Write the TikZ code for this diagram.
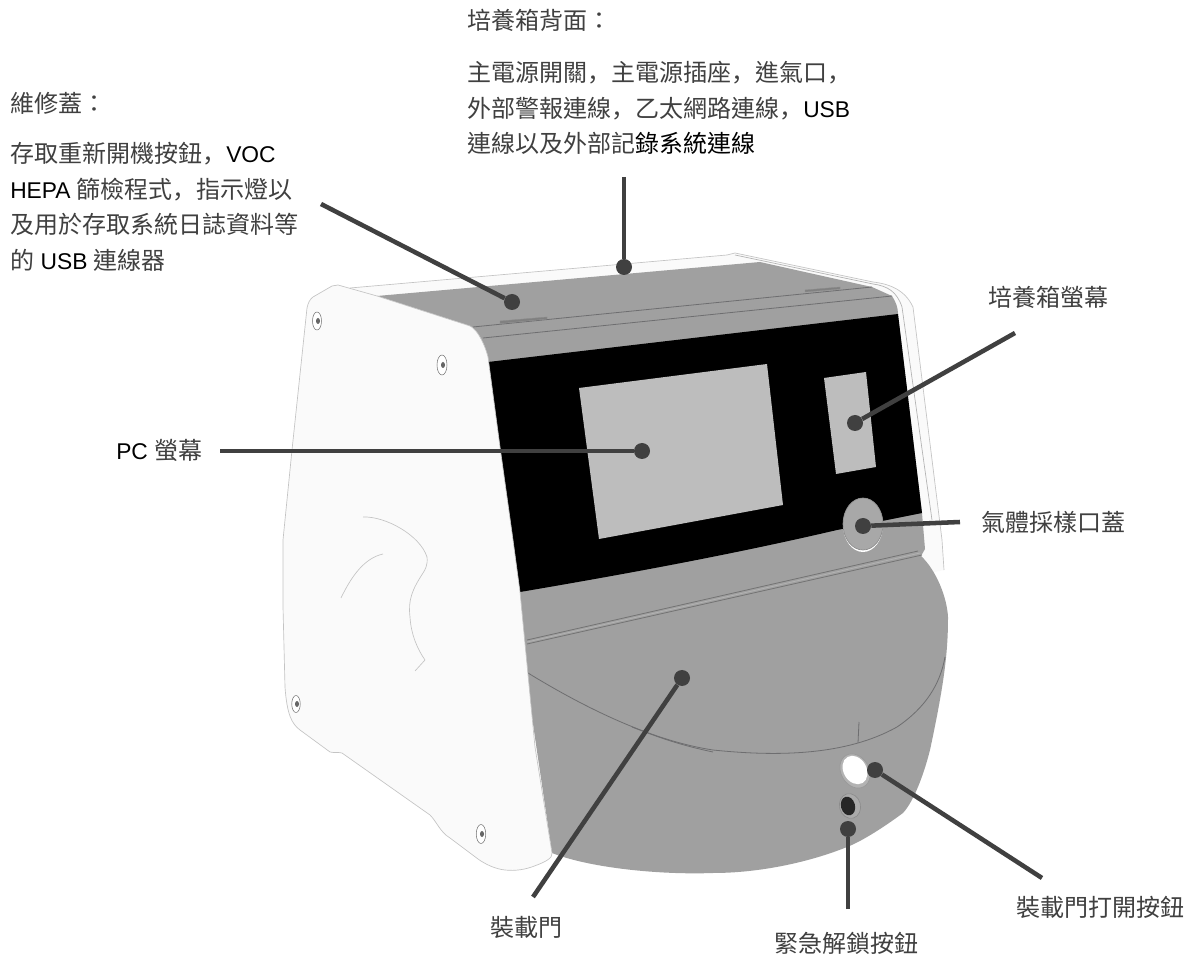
\documentclass[tikz,border=0pt]{standalone}
\usepackage{fontspec}
\setmainfont[Scale=0.95]{Liberation Sans}
\newfontfamily\cjkfont{Noto Sans CJK TC}
\newfontfamily\cjkscfont{Noto Sans CJK SC}
\definecolor{cjktext}{HTML}{404040}
\newcommand{\cj}[1]{{\cjkfont\color{cjktext}#1}}
\newcommand{\cjb}[1]{{\cjkfont\color{black}#1}}
\newcommand{\cjc}{{\cjkscfont\color{cjktext}，}}
\definecolor{body}{HTML}{A0A0A0}
\definecolor{shell}{HTML}{FAFAFA}
\definecolor{edge}{HTML}{C4C4C4}
\definecolor{seam}{HTML}{6E6E70}
\definecolor{lead}{HTML}{404040}
\definecolor{screen}{HTML}{BDBDBD}
\tikzset{
  x=0.75pt,y=-0.75pt,
  lbl/.style={inner sep=0pt,font=\fontsize{18}{26.6}\selectfont,text=black},
  para/.style={lbl,align=left,anchor=north west},
  dot/.style={circle,fill=lead,draw=none,inner sep=0pt,minimum size=12pt},
  leader/.style={draw=lead,line width=3.4pt},
  seamline/.style={draw=seam,line width=0.6pt},
  hair/.style={draw=edge,line width=0.5pt},
  screw/.style={draw=black!55,fill=white,line width=0.4pt},
  slotmark/.style={draw=black!45,fill=black!50,line width=0.3pt},
}
\begin{document}
\begin{tikzpicture}
\useasboundingbox (0,0) rectangle (1190,955);
\fill[white] (0,0) rectangle (1190,955);
% rear lid and right shell edge
\fill[shell] (350,288) -- (727,255) -- (735,253) -- (873,282) .. controls (890,284) and (905,290) .. (913,307) -- (942,540) -- (944,570) -- (800,600) -- (400,340) -- cycle;
\draw[hair] (350,288) -- (727,255) -- (735,253) -- (873,282) .. controls (890,284) and (905,290) .. (913,307) -- (942,540) -- (944,570);
\draw[draw=black!30,line width=0.5pt] (735,255) -- (873,284) .. controls (888,286) and (897,292) .. (902,307) -- (932,520);
% grey body
\fill[body] (377,296) -- (760,262) -- (872,287) -- (892,296) .. controls (896,302) and (898,308) .. (898,314) -- (922,513) -- (925,549) -- (921,556)
  .. controls (936,570) and (947,597) .. (948,617) .. controls (948,650) and (945,680) .. (930,750)
  .. controls (925,770) and (915,800) .. (903,813) .. controls (880,830) and (860,842) .. (847,847)
  .. controls (810,862) and (760,873) .. (713,873) .. controls (660,875) and (590,868) .. (552,853) -- (500,500) -- (470,326) -- cycle;
% black fascia
\fill[black] (488,362) -- (898,314) -- (922,513) -- (837,530) .. controls (730,555) and (620,575) .. (520,592) -- cycle;
% screens
\fill[screen] (579,388) -- (767,364) -- (783,505) -- (599,539) -- cycle;
\fill[screen] (824,378) -- (866,372) -- (876,467) -- (836,474) -- cycle;
% gas sampling port
\fill[white] (863,525) ellipse [x radius=20,y radius=27];
\draw[draw=black!45,fill=body!92!white,line width=0.5pt] (863,524) ellipse [x radius=20,y radius=26];
% lid seams and slots
\draw[seamline] (473,327) -- (872,287);
\draw[seamline] (483,338) -- (892,296);
\draw[slotmark] (500,321) -- (547,317) -- (547,319) -- (500,323.5) -- cycle;
\draw[slotmark] (805,290) -- (840,287) -- (840,289) -- (805,292) -- cycle;
% door seams
\draw[draw=black!55,line width=0.6pt] (527,640) -- (918,551);
\draw[draw=white!70!black,line width=0.6pt] (527,642) -- (920,553);
\draw[draw=black!55,line width=0.6pt] (527,644) -- (922,555);
\draw[seamline] (528,673) .. controls (577,703) and (647,740) .. (713,750) .. controls (780,757) and (847,755) .. (897,727) .. controls (925,708) and (940,685) .. (945,657);
\draw[seamline] (632,727) .. controls (660,738) and (680,745) .. (713,752);
\draw[seamline] (859,722) -- (858,743);
% buttons
\draw[draw=black!40,fill=body!80!white,line width=0.5pt,rotate around={30:(855,771)}] (855,771) ellipse [x radius=14,y radius=18];
\fill[white,rotate around={30:(855,770)}] (855,770) ellipse [x radius=11.5,y radius=15];
\draw[draw=black!45,fill=body!90!white,line width=0.5pt,rotate around={15:(850,806)}] (850,806) ellipse [x radius=10.5,y radius=12.5];
\fill[black!85,rotate around={15:(848,806)}] (848,806) ellipse [x radius=7,y radius=9.5];
% left side panel
\draw[hair,fill=shell] (338,285) -- (377,296) -- (470,326) .. controls (478,330) and (485,345) .. (488,357) -- (500,447) -- (513,540) -- (520,592) -- (535,747) -- (552,853)
  .. controls (553,858) and (545,862) .. (537,865) .. controls (525,870) and (515,871) .. (505,870)
  .. controls (495,869) and (485,864) .. (478,859) -- (450,838) .. controls (440,832) and (437,822) .. (430,815) -- (342,753)
  .. controls (338,752) and (334,753) .. (330,752) -- (300,730) .. controls (292,724) and (287,715) .. (285,687) -- (283,607) -- (283,540) -- (292,450) -- (307,308)
  .. controls (308,303) and (310,299) .. (313,297) -- (332,286) -- cycle;
\draw[hair] (363,517) .. controls (385,516) and (420,535) .. (427,557) .. controls (428,565) and (425,570) .. (423,573) .. controls (412,590) and (408,600) .. (410,617) .. controls (411,635) and (418,650) .. (425,660) -- (415,671);
\draw[hair] (383,554) .. controls (365,558) and (352,575) .. (341,598);
% screws
\foreach \sx/\sy/\ry in {317/321/9,442/365/10,296/704/8.5,481/834/9.5}{
  \draw[screw] (\sx,\sy) ellipse [x radius=\ry*0.5,y radius=\ry];
  \fill[black!60] (\sx+1,\sy) ellipse [x radius=2,y radius=3];
}
% labels
\node[para] (back) at (467,9) {\cj{培養箱背面：}\\[12.4pt]
  \cj{主電源開關}\cjc\cj{主電源插座}\cjc\cj{進氣口}\cjc\\
  \cj{外部警報連線}\cjc\cj{乙太網路連線}\cjc USB\\
  \cj{連線以及外部記}\cjb{錄系統連線}};
\node[para] (service) at (10,92) {\cj{維修蓋：}\\[11.2pt]
  \cj{存取重新開機按鈕}\cjc VOC\\
  HEPA \cj{篩檢程式}\cjc\cj{指示燈以}\\
  \cj{及用於存取系統日誌資料等}\\
  \cj{的} USB \cj{連線器}};
\node[lbl,anchor=west] (pclabel) at (116,450) {PC \cj{螢幕}};
\node[lbl,anchor=west] (inclabel) at (988,297) {\cj{培養箱螢幕}};
\node[lbl,anchor=west] (gaslabel) at (981,522) {\cj{氣體採樣口蓋}};
\node[lbl,anchor=west] (doorlabel) at (490,927) {\cj{裝載門}};
\node[lbl,anchor=west] (openlabel) at (1016,907) {\cj{裝載門打開按鈕}};
\node[lbl,anchor=west] (emlabel) at (774,943) {\cj{緊急解鎖按鈕}};
% leaders
\coordinate (f1) at (321,204);
\coordinate (f2) at (624,177);
\coordinate (f3) at (1015,333);
\coordinate (f4) at (220,451);
\coordinate (f5) at (960,522);
\coordinate (f6) at (533,897);
\coordinate (f7) at (1042,878);
\coordinate (f8) at (848,909);
\node[dot] (d1) at (512,302) {};
\node[dot] (d2) at (624,267) {};
\node[dot] (d3) at (855,423) {};
\node[dot] (d4) at (642,451) {};
\node[dot] (d5) at (863,526) {};
\node[dot] (d6) at (682,678) {};
\node[dot] (d7) at (875,770) {};
\node[dot] (d8) at (848,829) {};
\draw[leader] (f1) -- (d1);
\draw[leader] (f2) -- (d2);
\draw[leader] (f3) -- (d3);
\draw[leader] (f4) -- (d4);
\draw[leader] (f5) -- (d5);
\draw[leader] (f6) -- (d6);
\draw[leader] (f7) -- (d7);
\draw[leader] (f8) -- (d8);
\end{tikzpicture}
\end{document}
